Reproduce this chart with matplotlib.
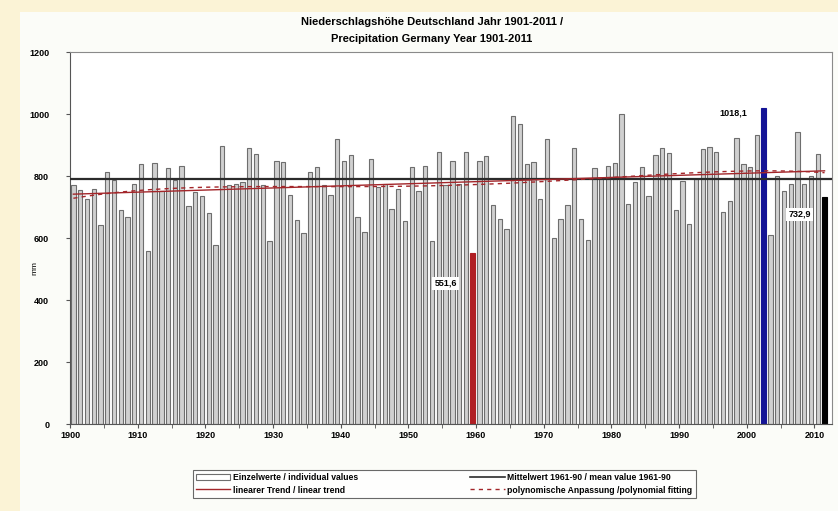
import numpy as np
import matplotlib.pyplot as plt
from matplotlib.patches import Rectangle, Patch
from matplotlib.lines import Line2D

plt.rcParams['font.family'] = ['Liberation Sans Narrow', 'Liberation Sans', 'DejaVu Sans']

# annual precipitation Germany (mm)
years = list(range(1900, 2012))
precip = [
    770, 755, 727, 757, 642, 812, 788, 690, 668, 775,   # 1900-1909
    838, 558, 842, 752, 826, 788, 833, 704, 747, 734,   # 1910-1919
    680, 577, 896, 770, 775, 780, 890, 870, 770, 590,   # 1920-1929
    849, 844, 738, 658, 617, 812, 830, 770, 740, 918,   # 1930-1939
    849, 869, 669, 619, 855, 765, 775, 693, 757, 656,   # 1940-1949
    830, 752, 833, 590, 879, 770, 847, 775, 879, 551.6, # 1950-1959
    850, 864, 705, 660, 630, 994, 969, 838, 844, 725,   # 1960-1969
    918, 601, 662, 705, 890, 661, 593, 826, 795, 831,   # 1970-1979
    842, 1000, 709, 780, 830, 736, 869, 890, 875, 690,  # 1980-1989
    785, 646, 790, 888, 893, 878, 685, 718, 922, 839,   # 1990-1999
    828, 933, 1018.1, 610, 800, 752, 775, 942, 775, 800, # 2000-2009
    870, 732.9,                                          # 2010-2011
]
mean_6190 = 789
highlight = {1959: '#b01e23', 2002: '#141496', 2011: '#000000'}
value_labels = [(1959, '551,6', 1955.5, 454), (2002, '1018,1', 1998.0, 1004),
                (2011, '732,9', 2007.8, 676)]

fig = plt.figure(figsize=(8.38, 5.11), dpi=100, facecolor='#fbf3d6')
fig.patches.append(Rectangle((20 / 838, 0), 1, 1 - 12 / 511, transform=fig.transFigure,
                             facecolor='#fbfcf8', edgecolor='none', zorder=-5))
ax = fig.add_axes([70 / 838, 1 - 424 / 511, (832 - 70) / 838, (424 - 52) / 511])
ax.set_facecolor('white')

x = np.array(years) + 0.5
y = np.array(precip, dtype=float)
colors = [highlight.get(yr, '#d0d0d0') for yr in years]
edges = [highlight.get(yr, '#6e6e6e') for yr in years]
ax.bar(x, y, width=0.64, color=colors, edgecolor=edges, linewidth=0.8, zorder=2)

# mean value and trends
ax.axhline(mean_6190, color='#2b2b2b', linewidth=1.6, zorder=3)
lin = np.polyfit(x, y, 1)
ax.plot(x, np.polyval(lin, x), color='#a3262a', linewidth=1.0, zorder=4)
poly = np.polyfit(x - 1955, y, 4)
ax.plot(x, np.polyval(poly, x - 1955), color='#a3262a', linewidth=1.0,
        linestyle=(0, (3, 3)), zorder=4)

for yr, txt, tx, ty in value_labels:
    ax.text(tx, ty, txt, ha='center', va='center', fontsize=6.5, fontweight='bold',
            bbox=dict(facecolor='white', edgecolor='none', pad=1.5), zorder=5)

ax.set_xlim(1900, 2012.6)
ax.set_ylim(0, 1200)
ax.set_xticks(range(1900, 2011, 10))
ax.set_xticks(range(1905, 2011, 10), minor=True)
ax.set_yticks(range(0, 1201, 200))
ax.tick_params(axis='both', labelsize=6.5, length=3, color='#555555', pad=2)
ax.tick_params(axis='y', pad=12)
ax.tick_params(axis='x', which='minor', length=3, color='#555555')
for lbl in ax.get_xticklabels() + ax.get_yticklabels():
    lbl.set_fontweight('bold')
for s in ax.spines.values():
    s.set_color('#8a8a8a')
    s.set_linewidth(0.8)
ax.spines['left'].set_color('#555555')
ax.spines['bottom'].set_color('#555555')
ax.set_ylabel('mm', fontsize=6)
ax.yaxis.set_label_coords(-0.042, 0.42)

fig.text(0.515, 1 - 22 / 511, 'Niederschlagshöhe Deutschland Jahr 1901-2011 /',
         ha='center', va='center', fontsize=8, fontweight='bold')
fig.text(0.515, 1 - 39 / 511, 'Precipitation Germany Year 1901-2011',
         ha='center', va='center', fontsize=8, fontweight='bold')

handles = [Patch(facecolor='white', edgecolor='#6e6e6e', linewidth=0.8),
           Line2D([], [], color='#a3262a', linewidth=1.0),
           Line2D([], [], color='#2b2b2b', linewidth=1.2),
           Line2D([], [], color='#a3262a', linewidth=1.0, linestyle=(0, (3, 3)))]
labels = ['Einzelwerte / individual values', 'linearer Trend / linear trend',
          'Mittelwert 1961-90 / mean value 1961-90',
          'polynomische Anpassung /polynomial fitting']
leg = fig.legend(handles, labels, ncol=2, loc='center', bbox_to_anchor=(0.53, 1 - 484 / 511),
                 fontsize=6.2, frameon=True, fancybox=False, edgecolor='#444444',
                 columnspacing=13, handlelength=4, handletextpad=0.3, labelspacing=0.35,
                 borderpad=0.4)
leg.get_frame().set_linewidth(0.8)
for t in leg.get_texts():
    t.set_fontweight('bold')

fig.savefig('out.png', dpi=100, facecolor=fig.get_facecolor())
